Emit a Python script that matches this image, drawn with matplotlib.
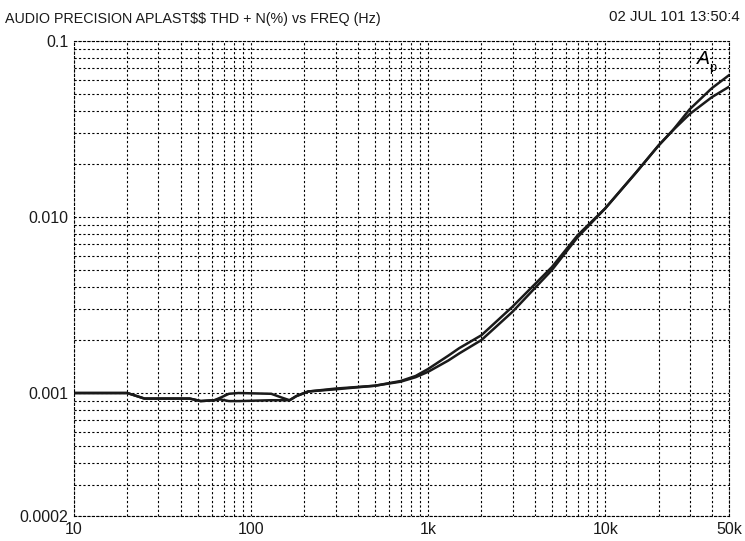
import matplotlib
matplotlib.use("Agg")
import matplotlib.pyplot as plt
from matplotlib.ticker import LogLocator, FixedLocator, FixedFormatter, NullFormatter
import numpy as np

plt.rcParams['font.family'] = ['Liberation Sans', 'DejaVu Sans']

# Data
freq = [10, 20, 25, 45, 52, 62, 67, 75, 85, 130, 150, 165, 180, 210, 300, 500,
        700, 850, 1000, 1300, 1500, 2000, 3000, 5000, 7000, 10000, 15000, 20000,
        24000, 30000, 40000, 50000]
thd_a = [0.001, 0.001, 0.00093, 0.00093, 0.0009, 0.00091, 0.00094, 0.00099, 0.001,
         0.00099, 0.00094, 0.00091, 0.00096, 0.00102, 0.00106, 0.0011, 0.00117,
         0.00125, 0.00137, 0.00163, 0.0018, 0.00213, 0.0031, 0.0052, 0.0079, 0.0112,
         0.018, 0.0255, 0.031, 0.041, 0.054, 0.064]
thd_b = [0.001, 0.001, 0.00093, 0.00093, 0.0009, 0.00091, 0.00092, 0.0009, 0.0009,
         0.00091, 0.00091, 0.00091, 0.00096, 0.00102, 0.00105, 0.0011, 0.00116,
         0.00123, 0.00132, 0.00153, 0.00168, 0.002, 0.0029, 0.005, 0.0077, 0.0112,
         0.018, 0.0255, 0.031, 0.0385, 0.048, 0.055]

x_ticks = [10, 100, 1000, 10000, 50000]
x_labels = ["10", "100", "1k", "10k", "50k"]
y_ticks = [0.0002, 0.001, 0.01, 0.1]
y_labels = ["0.0002", "0.001", "0.010", "0.1"]

fig = plt.figure(figsize=(7.45, 5.41), dpi=100)
ax = fig.add_axes([0.0993, 0.0462, 0.8792, 0.8778])

ax.plot(freq, thd_a, color='#1a1a1a', lw=1.8)
ax.plot(freq, thd_b, color='#1a1a1a', lw=1.8)

ax.set_xscale('log')
ax.set_yscale('log')
ax.set_xlim(10, 50000)
ax.set_ylim(0.0002, 0.1)

ax.xaxis.set_major_locator(FixedLocator(x_ticks))
ax.xaxis.set_major_formatter(FixedFormatter(x_labels))
ax.yaxis.set_major_locator(FixedLocator(y_ticks))
ax.yaxis.set_major_formatter(FixedFormatter(y_labels))
ax.xaxis.set_minor_locator(LogLocator(base=10, subs=np.arange(2, 10), numticks=20))
ax.yaxis.set_minor_locator(LogLocator(base=10, subs=np.arange(1, 10), numticks=20))
ax.xaxis.set_minor_formatter(NullFormatter())
ax.yaxis.set_minor_formatter(NullFormatter())
ax.tick_params(which='both', length=0, labelsize=11.5, colors='#1a1a1a')
ax.tick_params(axis='x', pad=4)
ax.tick_params(axis='y', pad=4)

ax.grid(True, which='both', color='black', linestyle=(0, (2, 2)), linewidth=0.8)
for s in ax.spines.values():
    s.set_linestyle((0, (2, 2)))
    s.set_linewidth(0.8)

ax.text(0.951, 0.962, "A", transform=ax.transAxes, fontsize=14, style='italic',
        ha='left', va='center')
ax.text(0.969, 0.944, "p", transform=ax.transAxes, fontsize=9,
        ha='left', va='center')

fig.text(0.007, 0.965, r"AUDIO PRECISION APLAST\$\$ THD + N(%) vs FREQ (Hz)",
         fontsize=10.3, ha='left', va='center', color='#1a1a1a')
fig.text(0.993, 0.968, "02 JUL 101 13:50:4", fontsize=10.8, ha='right', va='center',
         color='#1a1a1a')

fig.savefig("out.png", dpi=100)
